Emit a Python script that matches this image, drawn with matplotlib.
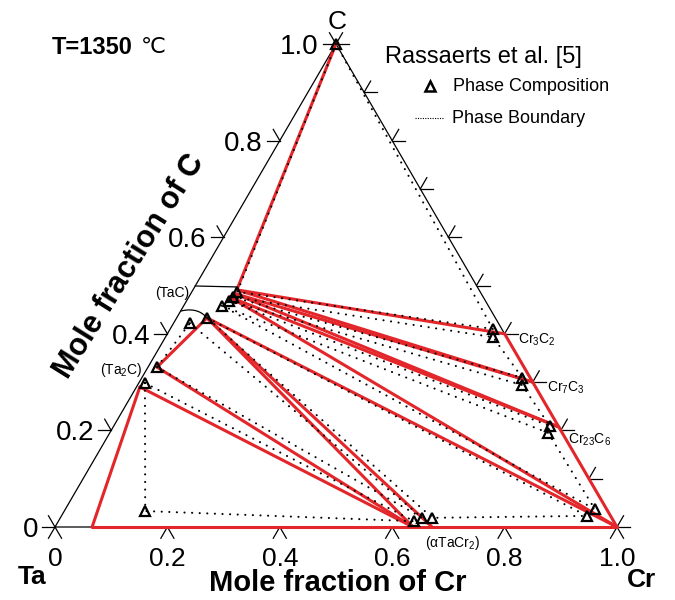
import numpy as np
import matplotlib
matplotlib.use('Agg')
import matplotlib.pyplot as plt

plt.rcParams['font.family'] = ['Liberation Sans', 'DejaVu Sans']
plt.rcParams['mathtext.fontset'] = 'custom'
plt.rcParams['mathtext.rm'] = 'Liberation Sans'
plt.rcParams['mathtext.it'] = 'Liberation Sans:italic'
plt.rcParams['mathtext.bf'] = 'Liberation Sans:bold'

# ---------------- data (compositions: x_Cr, x_C) ----------------
# calculated phase-diagram vertices (red lines)
calc_pts = {
    'C':       (0.000, 1.000),
    'TaC_a':   (0.078, 0.491),
    'TaC_b':   (0.076, 0.484),
    'TaC_c':   (0.073, 0.476),
    'TaC_d':   (0.054, 0.433),
    'Ta2C_a':  (0.016, 0.331),
    'Ta2C_b':  (0.006, 0.290),
    'Ta_bcc':  (0.066, 0.000),
    'TaCr2_a': (0.637, 0.000),
    'TaCr2_b': (0.671, 0.000),
    'Cr3C2':   (0.600, 0.400),
    'Cr7C3':   (0.700, 0.300),
    'Cr23C6':  (0.793, 0.207),
    'Cr':      (1.000, 0.000),
}
calc_segments = [
    ('C', 'TaC_a'), ('TaC_a', 'Cr3C2'), ('TaC_a', 'Cr7C3'),
    ('TaC_b', 'Cr7C3'), ('TaC_b', 'Cr23C6'), ('TaC_c', 'Cr23C6'),
    ('TaC_c', 'Cr'), ('TaC_d', 'Cr'), ('TaC_d', 'TaCr2_b'),
    ('TaC_d', 'TaCr2_a'), ('TaC_d', 'Ta2C_a'), ('Ta2C_a', 'TaCr2_a'),
    ('Ta2C_b', 'TaCr2_a'), ('Ta2C_b', 'Ta_bcc'), ('Ta_bcc', 'Cr'),
    ('Cr3C2', 'Cr'),
]

# Rassaerts et al. phase compositions (triangles)
rass_xcr = [0.000, 0.081, 0.079, 0.076, 0.068, 0.054, 0.029, 0.016, 0.011,
            0.144, 0.633, 0.644, 0.662, 0.935, 0.942, 0.574, 0.583, 0.677,
            0.684, 0.776, 0.780]
rass_xc = [1.000, 0.487, 0.476, 0.468, 0.458, 0.433, 0.422, 0.331, 0.298,
           0.033, 0.012, 0.019, 0.019, 0.023, 0.037, 0.410, 0.393, 0.309,
           0.294, 0.209, 0.195]
# Rassaerts three-phase triangles (indices into the lists above)
rass_triangles = [(0, 1, 15), (2, 16, 17), (3, 18, 19), (4, 20, 14),
                  (5, 13, 12), (6, 11, 7), (8, 10, 9)]

# TaC homogeneity bracket (Rassaerts)
tac_top = [(0.000, 0.499), (0.075, 0.497)]

left_ticks = [0.2, 0.4, 0.6, 0.8]
right_ticks = [0.1, 0.2, 0.3, 0.4, 0.5, 0.6, 0.7, 0.8, 0.9]
bottom_ticks = [0.2, 0.4, 0.6, 0.8]
left_labels = ['0', '0.2', '0.4', '0.6', '0.8', '1.0']
left_label_vals = [0.0, 0.2, 0.4, 0.6, 0.8, 1.0]
bottom_labels = ['0', '0.2', '0.4', '0.6', '0.8', '1.0']
bottom_label_vals = [0.0, 0.2, 0.4, 0.6, 0.8, 1.0]

RED = '#e3262a'

# ---------------- geometry ----------------
H = 483 / 562.0


def T(xcr, xc):
    return xcr + xc / 2.0, xc * H


def P(px, py):
    """pixel position -> axes data coords (layout helper)"""
    return (px - 55) / 562.0, (527 - py) / 562.0


fig = plt.figure(figsize=(6.75, 6.0), dpi=100)
ax = fig.add_axes([0, 0, 1, 1])
ax.set_xlim(-55 / 562.0, 620 / 562.0)
ax.set_ylim(-73 / 562.0, 527 / 562.0)
ax.axis('off')

# triangle frame
corners = [T(0, 0), T(1, 0), T(0, 1), T(0, 0)]
ax.plot([c[0] for c in corners], [c[1] for c in corners], color='k', lw=0.9,
        solid_capstyle='butt', zorder=2)

# tick arms
u_cr = np.array([0.5, H]); u_cr /= np.linalg.norm(u_cr)
u_ta = np.array([-0.5, H]); u_ta /= np.linalg.norm(u_ta)
east = np.array([1.0, 0.0])
arm = 13 / 562.0


def draw_arms(p, dirs):
    p = np.array(p)
    for d in dirs:
        q = p + arm * d
        ax.plot([p[0], q[0]], [p[1], q[1]], color='k', lw=0.9, zorder=2)


for c in left_ticks:
    draw_arms(T(0, c), [-east, u_ta])
for c in right_ticks:
    draw_arms(T(1 - c, c), [east, u_cr])
for x in bottom_ticks:
    draw_arms(T(x, 0), [-u_cr, -u_ta])
draw_arms(T(0, 0), [-east, u_ta, -u_cr, -u_ta])
draw_arms(T(1, 0), [east, u_cr, -u_cr, -u_ta])
draw_arms(T(0, 1), [-east, u_ta, east, u_cr])

# tick labels
for v, s in zip(left_label_vals, left_labels):
    x, y = T(0, v)
    ax.text(x - 17 / 562.0, y, s, ha='right', va='center_baseline', fontsize=20)
for v, s in zip(bottom_label_vals, bottom_labels):
    x, y = T(v, 0)
    ax.text(x, y - 29 / 562.0, s, ha='center', va='center_baseline', fontsize=19)

# calculated boundaries (red)
for a, b in calc_segments:
    pa, pb = T(*calc_pts[a]), T(*calc_pts[b])
    ax.plot([pa[0], pb[0]], [pa[1], pb[1]], color=RED, lw=2.2,
            solid_capstyle='round', zorder=3)

# Rassaerts boundaries (dotted)
dot_style = dict(color='k', lw=1.5, linestyle=(0, (0.05, 3.6)),
                 dash_capstyle='round', zorder=4)
for tri in rass_triangles:
    idx = list(tri) + [tri[0]]
    pts = [T(rass_xcr[i], rass_xc[i]) for i in idx]
    ax.plot([p[0] for p in pts], [p[1] for p in pts], **dot_style)

# TaC bracket
pa, pb = T(*tac_top[0]), T(*tac_top[1])
ax.plot([pa[0], pb[0]], [pa[1], pb[1]], color='k', lw=0.9, zorder=2)
t = np.linspace(0, 1, 30)
b0, b1, b2 = np.array(P(181, 311)), np.array(P(198, 307)), np.array(P(207, 318))
bez = ((1 - t) ** 2)[:, None] * b0 + (2 * (1 - t) * t)[:, None] * b1 + (t ** 2)[:, None] * b2
ax.plot(bez[:, 0], bez[:, 1], color='k', lw=0.9, zorder=2)

# phase composition markers
mx, my = zip(*[T(a, b) for a, b in zip(rass_xcr, rass_xc)])
ax.plot(mx, my, linestyle='none', marker='^', ms=7.5, mfc='none', mec='k',
        mew=1.6, zorder=5)

# phase labels
small = 10
ax.text(*P(172, 293), '(TaC)', ha='center', va='center', fontsize=small)
ax.text(*P(121, 370), '(Ta$_2$C)', ha='center', va='center', fontsize=small)
ax.text(*P(518, 340), 'Cr$_3$C$_2$', ha='left', va='center', fontsize=small)
ax.text(*P(547, 388), 'Cr$_7$C$_3$', ha='left', va='center', fontsize=small)
ax.text(*P(568, 440), 'Cr$_{23}$C$_6$', ha='left', va='center', fontsize=small)
ax.text(*P(425, 543), '(\u03b1TaCr$_2$)', ha='left', va='center', fontsize=small)

# corner labels and axis titles
ax.text(*P(337, 22), 'C', ha='center', va='center', fontsize=19)
ax.text(*P(32, 577), 'Ta', ha='center', va='center', fontsize=19, fontweight='bold')
ax.text(*P(642, 580), 'Cr', ha='center', va='center', fontsize=19, fontweight='bold')
ax.text(*P(338, 583), 'Mole fraction of Cr', ha='center', va='center',
        fontsize=21, fontweight='bold')
ax.text(*P(130, 266), 'Mole fraction of C', ha='center', va='center',
        fontsize=22, fontweight='bold', rotation=58, rotation_mode='anchor')

# temperature
ax.text(*P(52, 47), 'T=1350', ha='left', va='center', fontsize=17, fontweight='bold')
ax.text(*P(141, 47), '\u2103', ha='left', va='center', fontsize=16)

# legend
ax.text(*P(385, 57), 'Rassaerts et al. [5]', ha='left', va='center', fontsize=17)
lx, ly = P(430, 86)
ax.plot([lx], [ly], linestyle='none', marker='^', ms=6.5, mfc='none', mec='k', mew=1.8)
ax.text(*P(453, 86), 'Phase Composition', ha='left', va='center', fontsize=13)
l0, l1 = P(415, 118), P(443, 118)
ax.plot([l0[0], l1[0]], [l0[1], l1[1]], color='k', lw=0.8, linestyle=(0, (1, 1.2)))
ax.text(*P(452, 118), 'Phase Boundary', ha='left', va='center', fontsize=13)

fig.savefig('out.png', dpi=100)
